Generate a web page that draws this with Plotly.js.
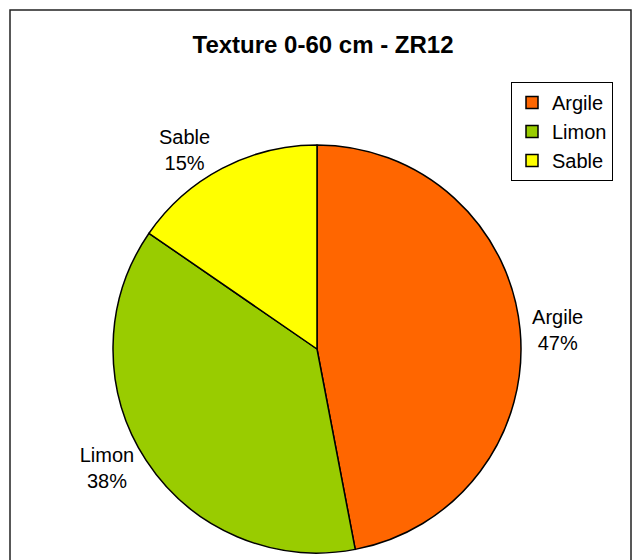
<!DOCTYPE html>
<html>
<head>
<meta charset="utf-8">
<script src="https://cdn.plot.ly/plotly-3.0.1.min.js"></script>
<style>html,body{margin:0;padding:0;background:#fff;}#chart{width:633px;height:560px;}</style>
</head>
<body>
<div id="chart"></div>
<script>
var categories = ['Argile', 'Limon', 'Sable'];
var shares = [47.0, 37.6, 15.4];
var sliceColors = ['#FF6600', '#99CC00', '#FFFF00'];
var chartTitle = 'Texture 0-60 cm - ZR12';

var W = 633, H = 560;
var cx = 317, cy = 349, r = 204;

var trace = {
  type: 'pie',
  labels: categories,
  values: shares,
  sort: false,
  direction: 'clockwise',
  rotation: 0,
  marker: {colors: sliceColors, line: {color: '#000', width: 1.5}},
  textposition: 'outside',
  texttemplate: '%{label}<br>%{percent:.0%}',
  textfont: {family: 'Liberation Sans, Arial, sans-serif', size: 20, color: '#000'},
  hoverinfo: 'none',
  domain: {
    x: [(cx - r) / W, (cx + r) / W],
    y: [(H - cy - r) / H, (H - cy + r) / H]
  }
};

var layout = {
  width: W, height: H,
  margin: {l: 0, r: 0, t: 0, b: 0},
  paper_bgcolor: '#fff',
  showlegend: true,
  title: {
    text: '<b>' + chartTitle + '</b>',
    x: 323 / W, xanchor: 'center',
    y: 1 - 45 / H, yanchor: 'middle',
    font: {family: 'Liberation Sans, Arial, sans-serif', size: 24, color: '#000'}
  },
  legend: {
    x: 511 / W, xanchor: 'left',
    y: 1 - 82 / H, yanchor: 'top',
    bgcolor: '#fff',
    bordercolor: '#000',
    borderwidth: 1,
    itemwidth: 30,
    font: {family: 'Liberation Sans, Arial, sans-serif', size: 20, color: '#000'}
  },
  shapes: [{
    type: 'rect', xref: 'paper', yref: 'paper',
    x0: 10 / W, x1: 631 / W, y0: -0.05, y1: 1 - 10 / H,
    line: {color: '#222', width: 1.5}, fillcolor: 'rgba(0,0,0,0)', layer: 'below'
  }]
};

Plotly.newPlot('chart', [trace], layout, {displayModeBar: false, staticPlot: true});
</script>
</body>
</html>
